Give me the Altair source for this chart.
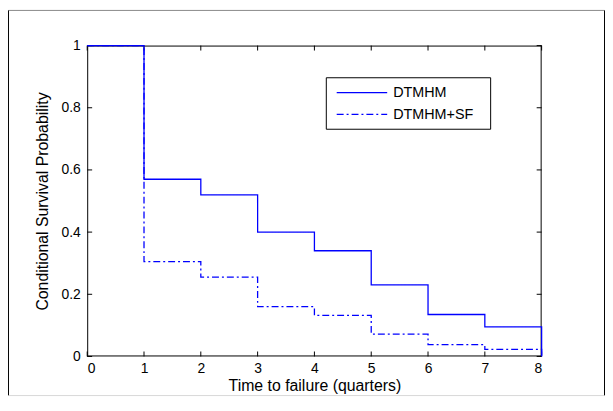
import altair as alt
import pandas as pd

# ---- data ----
quarters = [0, 1, 2, 3, 4, 5, 6, 7, 8]
dtmhm = [1.0, 0.57, 0.52, 0.40, 0.34, 0.23, 0.135, 0.095, 0.0]
dtmhm_sf = [1.0, 0.305, 0.255, 0.16, 0.132, 0.072, 0.038, 0.023, 0.0]
series_names = ["DTMHM", "DTMHM+SF"]
x_ticks = [0, 1, 2, 3, 4, 5, 6, 7, 8]
y_ticks = [0, 0.2, 0.4, 0.6, 0.8, 1]

W, H = 459, 314
BLUE = "#0000ff"
FONT = "Liberation Sans"
FS = 15

df = pd.DataFrame({
    "t": quarters * 2,
    "p": dtmhm + dtmhm_sf,
    "series": [series_names[0]] * len(quarters) + [series_names[1]] * len(quarters),
})
xt = pd.DataFrame({"v": x_ticks})
yt = pd.DataFrame({"v": y_ticks})
one = pd.DataFrame({"a": [0]})

xs = alt.Scale(domain=[0, 8], nice=False, zero=False)
ys = alt.Scale(domain=[0, 1], nice=False)

axis_style = dict(domain=False, ticks=False, tickSize=0, grid=False,
                  labelFont=FONT, labelFontSize=FS - 1, labelColor="black",
                  titleFont=FONT, titleFontSize=16, titleFontWeight="normal", titleColor="black")
x_axis = alt.Axis(values=x_ticks, format="d", title="Time to failure (quarters)",
                  labelPadding=5, titlePadding=2, **axis_style)
y_axis = alt.Axis(values=y_ticks, format="~g", title="Conditional Survival Probability",
                  labelPadding=7, titlePadding=11, **axis_style)

base1 = alt.Chart(one)

# outer figure frame
frame_top = base1.mark_rule(color="#8a8a8a", strokeWidth=1).encode(
    x=alt.value(-79.5), x2=alt.value(522.5), y=alt.value(-35.5))
frame_left = base1.mark_rule(color="#000000", strokeWidth=1).encode(
    x=alt.value(-79.5), y=alt.value(-35.5), y2=alt.value(353.5))
frame_right = base1.mark_rule(color="#000000", strokeWidth=1).encode(
    x=alt.value(522.5), y=alt.value(-35.5), y2=alt.value(353.5))
frame_bottom = base1.mark_rule(color="#d8d8d8", strokeWidth=1).encode(
    x=alt.value(-79.5), x2=alt.value(522.5), y=alt.value(353.5))

# plot box
box_l = base1.mark_rule(color="black").encode(x=alt.value(0.5), y=alt.value(0), y2=alt.value(H))
box_r = base1.mark_rule(color="black").encode(x=alt.value(W - 0.5), y=alt.value(0), y2=alt.value(H))
box_t = base1.mark_rule(color="black").encode(x=alt.value(0), x2=alt.value(W), y=alt.value(0.5))
box_b = base1.mark_rule(color="black").encode(x=alt.value(0), x2=alt.value(W), y=alt.value(H - 0.5))

# inward ticks
tick_b = alt.Chart(xt).mark_rule(color="black").encode(
    x=alt.X("v:Q", scale=xs, axis=x_axis), y=alt.value(H), y2=alt.value(H - 5))
tick_t = alt.Chart(xt).mark_rule(color="black").encode(
    x=alt.X("v:Q", scale=xs), y=alt.value(0), y2=alt.value(5))
tick_l = alt.Chart(yt).mark_rule(color="black").encode(
    y=alt.Y("v:Q", scale=ys, axis=y_axis), x=alt.value(0), x2=alt.value(5))
tick_r = alt.Chart(yt).mark_rule(color="black").encode(
    y=alt.Y("v:Q", scale=ys), x=alt.value(W), x2=alt.value(W - 5))

lines = alt.Chart(df).mark_line(interpolate="step-after", color=BLUE, strokeWidth=1.3).encode(
    x=alt.X("t:Q", scale=xs, axis=x_axis),
    y=alt.Y("p:Q", scale=ys, axis=y_axis),
    strokeDash=alt.StrokeDash("series:N",
                              scale=alt.Scale(domain=series_names, range=[[1, 0], [7, 3, 2, 3]]),
                              legend=None),
)

# legend box (manual, MATLAB style)
leg_box = base1.mark_rect(fill="white", stroke="black", strokeWidth=1).encode(
    x=alt.value(241.5), x2=alt.value(407.5), y=alt.value(32.5), y2=alt.value(84.5))
leg_l1 = base1.mark_rule(color=BLUE, strokeWidth=1.3).encode(
    x=alt.value(252), x2=alt.value(303), y=alt.value(47.5))
leg_l2 = base1.mark_rule(color=BLUE, strokeWidth=1.3, strokeDash=[7, 3, 2, 3]).encode(
    x=alt.value(252), x2=alt.value(303), y=alt.value(69.5))
leg_t1 = base1.mark_text(align="left", baseline="middle", font=FONT, fontSize=FS - 0.5, color="black").encode(
    x=alt.value(309), y=alt.value(48), text=alt.value(series_names[0]))
leg_t2 = base1.mark_text(align="left", baseline="middle", font=FONT, fontSize=FS - 0.5, color="black").encode(
    x=alt.value(309), y=alt.value(70), text=alt.value(series_names[1]))

chart = alt.layer(
    frame_top, frame_left, frame_right, frame_bottom,
    box_l, box_r, box_t, box_b,
    tick_b, tick_t, tick_l, tick_r,
    lines,
    leg_box, leg_l1, leg_l2, leg_t1, leg_t2,
).properties(
    width=W, height=H,
    background="white",
    autosize=alt.AutoSizeParams(type="none"),
    padding={"left": 80, "top": 36, "right": 64, "bottom": 40},
).configure_view(
    stroke=None
)

chart.save("out.html", embed_options={"renderer": "svg", "actions": False})
